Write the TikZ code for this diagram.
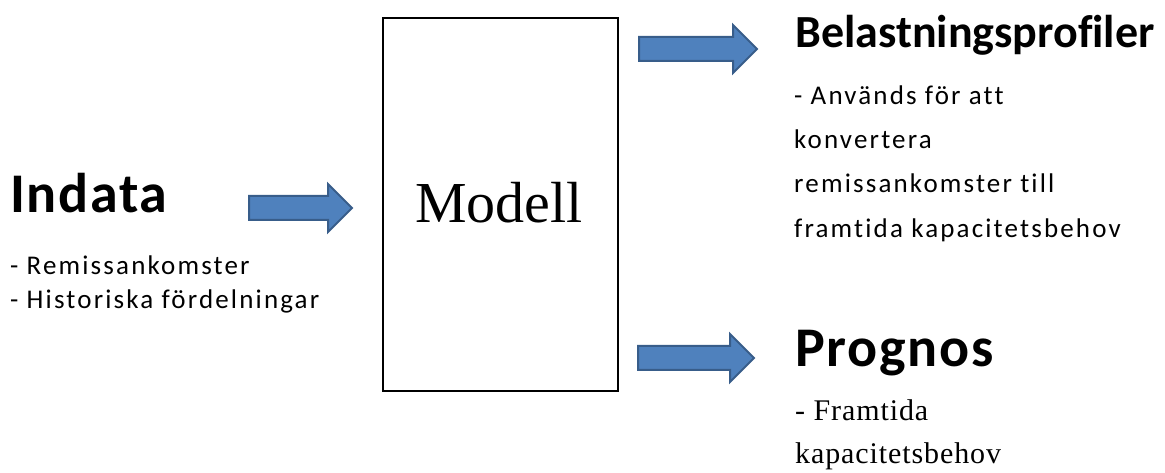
\documentclass[tikz,border=0pt]{standalone}
\usepackage{fontspec}
\setmainfont{Liberation Serif}
\newfontfamily\calfont[Ligatures=NoCommon]{Carlito}
\newfontfamily\calheadfont[LetterSpace=3,Ligatures=NoCommon]{Carlito}
\newfontfamily\calspfont[LetterSpace=8,Ligatures=NoCommon]{Carlito}
\newfontfamily\serifsp[LetterSpace=3,Ligatures=NoCommon]{Liberation Serif}
\definecolor{arrowfill}{HTML}{4F81BD}
\definecolor{arrowline}{HTML}{385D8A}
\tikzset{
  heading/.style={inner sep=0pt, anchor=base west, font=\calheadfont\bfseries\fontsize{56bp}{60bp}\selectfont},
  subheading/.style={inner sep=0pt, anchor=base west, font=\calfont\bfseries\fontsize{46bp}{50bp}\selectfont},
  body/.style={inner sep=0pt, anchor=base west, font=\calspfont\fontsize{27bp}{32bp}\selectfont},
  serifbody/.style={inner sep=0pt, anchor=base west, font=\serifsp\fontsize{30bp}{34bp}\selectfont},
  modelbox/.style={draw=black, line width=2bp, fill=white},
  blockarrow/.style={fill=arrowfill, draw=arrowline, line width=2bp, line join=miter}
}
\begin{document}
\begin{tikzpicture}[x=1bp, y=-1bp]
\useasboundingbox (0,0) rectangle (1165,473);
% model box
\draw[modelbox] (383,18) rectangle (618,391);
\node[inner sep=0pt, anchor=base, font=\fontsize{58bp}{62bp}\selectfont] (modell) at (499,223) {Modell};
% left texts
\node[heading] (indata) at (10,213) {Indata};
\node[body] (in1) at (10,275) {- Remissankomster};
\node[body] (in2) at (10,309) {- Historiska fördelningar};
% right top texts
\node[subheading] (belast) at (795,48) {Belastningsprofiler};
\node[body] (b1) at (794,105) {- Används för att};
\node[body] (b2) at (794,149) {konvertera};
\node[body] (b3) at (794,193) {remissankomster till};
\node[body] (b4) at (794,238) {framtida kapacitetsbehov};
% right bottom texts
\node[heading] (prognos) at (795,367) {Prognos};
\node[serifbody] (p1) at (795,421) {- Framtida};
\node[serifbody] (p2) at (795,464) {kapacitetsbehov};
% block arrows
\draw[blockarrow] (249,196) -- (328,196) -- (328,184) -- (352,208) -- (328,232) -- (328,220) -- (249,220) -- cycle;
\draw[blockarrow] (639,37) -- (733,37) -- (733,25) -- (757,49) -- (733,73) -- (733,61) -- (639,61) -- cycle;
\draw[blockarrow] (638,346) -- (730,346) -- (730,334) -- (754,358) -- (730,382) -- (730,370) -- (638,370) -- cycle;
\end{tikzpicture}
\end{document}
